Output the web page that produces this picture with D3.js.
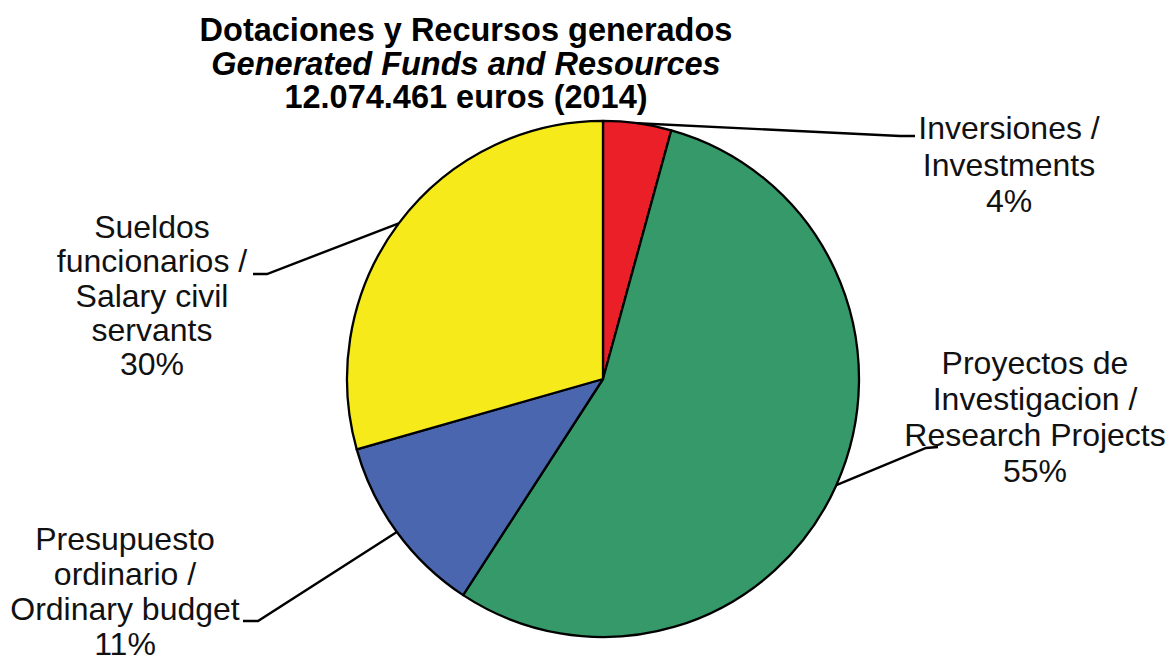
<!DOCTYPE html>
<html><head><meta charset="utf-8">
<script src="https://cdn.jsdelivr.net/npm/d3@7"></script>
<style>html,body{margin:0;padding:0;background:#fff;}svg{display:block;}</style>
</head><body>
<svg id="c" width="1170" height="664"></svg>
<script>
// ---- data ----
const categories = ["Inversiones / Investments", "Proyectos de Investigacion / Research Projects", "Presupuesto ordinario / Ordinary budget", "Sueldos funcionarios / Salary civil servants"];
const values = [4.3, 54.9, 11.4, 29.4];
const percentLabels = ["4%", "55%", "11%", "30%"];
const labelLines = [
  ["Inversiones /", "Investments", "4%"],
  ["Proyectos de", "Investigacion /", "Research Projects", "55%"],
  ["Presupuesto", "ordinario /", "Ordinary budget", "11%"],
  ["Sueldos", "funcionarios /", "Salary civil", "servants", "30%"]
];
const colors = ["#EA1F28", "#35996A", "#4A66AF", "#F6EA1A"];
const titleLines = ["Dotaciones y Recursos generados", "Generated Funds and Resources", "12.074.461 euros (2014)"];

// ---- layout ----
const W = 1170, H = 664;
const cx = 603, cy = 379, R = 256, sy = 1.008;
const labelLayout = [
  {x: 1009, y: 139, lh: 36.5, anchor: [900, 136], knee: [915, 136]},
  {x: 1035, y: 374, lh: 36, anchor: [926, 448], knee: [938, 447]},
  {x: 125, y: 550, lh: 35, anchor: [258, 621], knee: [243, 621]},
  {x: 152, y: 238, lh: 34.3, anchor: [267, 274], knee: [253, 274]}
];

const svg = d3.select("#c");
const g = svg.append("g").attr("transform", `translate(${cx},${cy}) scale(1,${sy})`);
const pie = d3.pie().sort(null).value(d => d)(values);
const arc = d3.arc().innerRadius(0).outerRadius(R);
const edge = d3.arc().innerRadius(R).outerRadius(R);

g.selectAll("path.slice").data(pie).enter().append("path")
  .attr("class", "slice")
  .attr("d", arc)
  .attr("fill", (d, i) => colors[i])
  .attr("stroke", "#000")
  .attr("stroke-width", 2.3)
  .attr("stroke-linejoin", "round");

// leader lines
pie.forEach((d, i) => {
  const c = edge.centroid(d);
  const p0 = [cx + c[0], cy + c[1] * sy];
  const L = labelLayout[i];
  svg.append("polyline")
    .attr("points", [p0, L.anchor, L.knee].map(p => p.join(",")).join(" "))
    .attr("fill", "none").attr("stroke", "#000").attr("stroke-width", 2.4);
});

// labels
labelLines.forEach((lines, i) => {
  const L = labelLayout[i];
  const t = svg.append("text")
    .attr("text-anchor", "middle")
    .attr("font-family", "Liberation Sans, Arial, sans-serif")
    .attr("font-size", 32)
    .attr("fill", "#111");
  lines.forEach((s, k) => {
    t.append("tspan").attr("x", L.x).attr("y", L.y + k * L.lh).text(s);
  });
});

// title
const tx = 466;
const title = svg.append("text").attr("text-anchor", "middle")
  .attr("font-family", "Liberation Sans, Arial, sans-serif")
  .attr("font-weight", "bold").attr("font-size", 32.5).attr("fill", "#000");
title.append("tspan").attr("x", tx).attr("y", 41).text(titleLines[0]);
title.append("tspan").attr("x", tx).attr("y", 75).attr("font-style", "italic").text(titleLines[1]);
title.append("tspan").attr("x", tx).attr("y", 108).text(titleLines[2]);
</script>
</body></html>
